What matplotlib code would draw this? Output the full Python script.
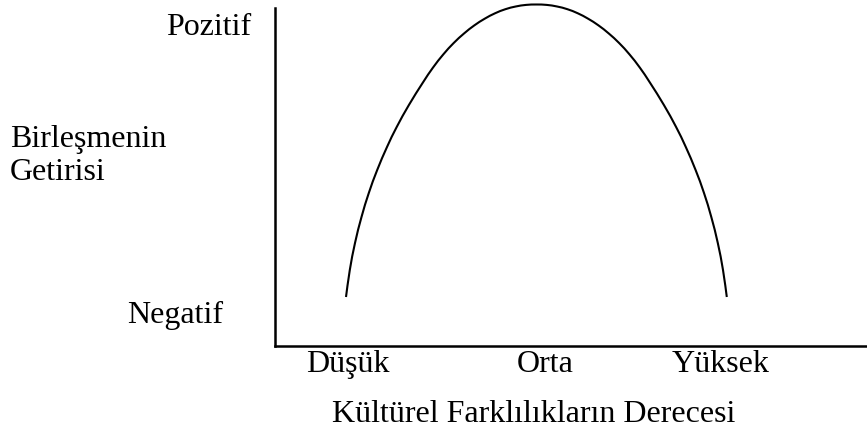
import matplotlib
matplotlib.use("Agg")
import matplotlib.pyplot as plt
from matplotlib.path import Path
from matplotlib.patches import PathPatch

plt.rcParams['font.family'] = ['Liberation Serif', 'DejaVu Serif']

# Curve (x: cultural difference, y: merger return)
curve_x = [71, 74.8, 80, 86.5, 93.8, 102.2, 112, 121.7, 133.9, 147.6, 157.9, 168.3, 178.6,
           189.0, 199.3, 209.7, 220.0, 230.4, 240.7, 251.1, 261.4,
           271.7, 282.1, 292.4, 302.8, 313.1, 323.5, 333.8, 344.2, 354.5, 364.9, 375.2,
           388.9, 401.1, 410.8, 420.6, 429, 436.3, 442.8, 448, 451.8]
curve_y = [49, 76, 103, 129, 153, 176, 199, 219, 241, 263, 278.3, 291.6, 302.9,
           312.5, 320.6, 327.3, 332.7, 336.8, 339.5, 341.1, 341.5,
           341.1, 339.5, 336.8, 332.7, 327.3, 320.6, 312.5, 302.9, 291.6, 278.3, 263,
           241, 219, 199, 176, 153, 129, 103, 76, 49]

x_labels = ['Düşük', 'Orta', 'Yüksek']
x_label_pos = [73, 270, 446]
y_labels = ['Pozitif', 'Negatif']
y_label_pos = [311, 23]
x_title = 'Kültürel Farklılıkların Derecesi'
y_title = ['Birleşmenin', 'Getirisi']

fig = plt.figure(figsize=(8.67, 4.34), dpi=100)
W, H = 867, 434
ax = fig.add_axes([275 / W, (H - 346) / H, (W - 275) / W, 345 / H])
ax.set_xlim(0, 592)
ax.set_ylim(0, 345)

# smooth line through the read points (Catmull-Rom as cubic Bezier segments)
pts = list(zip(curve_x, curve_y))
verts = [pts[0]]
codes = [Path.MOVETO]
n = len(pts)
for i in range(n - 1):
    p0 = pts[i - 1] if i > 0 else pts[i]
    p1 = pts[i]
    p2 = pts[i + 1]
    p3 = pts[i + 2] if i + 2 < n else pts[i + 1]
    c1 = (p1[0] + (p2[0] - p0[0]) / 6, p1[1] + (p2[1] - p0[1]) / 6)
    c2 = (p2[0] - (p3[0] - p1[0]) / 6, p2[1] - (p3[1] - p1[1]) / 6)
    verts += [c1, c2, p2]
    codes += [Path.CURVE4] * 3
ax.add_patch(PathPatch(Path(verts, codes), facecolor='none', edgecolor='black', lw=1.5,
                       capstyle='butt'))

for s in ['top', 'right']:
    ax.spines[s].set_visible(False)
ax.spines['left'].set_bounds(0, 338)
ax.spines['left'].set_linewidth(1.8)
ax.spines['bottom'].set_linewidth(1.8)
ax.set_xticks([])
ax.set_yticks([])

fs = 23
for lab, xp in zip(x_labels, x_label_pos):
    ax.text(xp, -26, lab, ha='center', va='baseline', fontsize=fs, clip_on=False)
ax.text(-24, y_label_pos[0], y_labels[0], ha='right', va='baseline', fontsize=fs, clip_on=False)
ax.text(-52, y_label_pos[1], y_labels[1], ha='right', va='baseline', fontsize=fs, clip_on=False)
ax.text(259, -76, x_title, ha='center', va='baseline', fontsize=fs, clip_on=False)
fig.text(10 / W, 1 - 147 / H, y_title[0], ha='left', va='baseline', fontsize=fs)
fig.text(10 / W, 1 - 180 / H, y_title[1], ha='left', va='baseline', fontsize=fs)

fig.savefig('out.png', dpi=100)
